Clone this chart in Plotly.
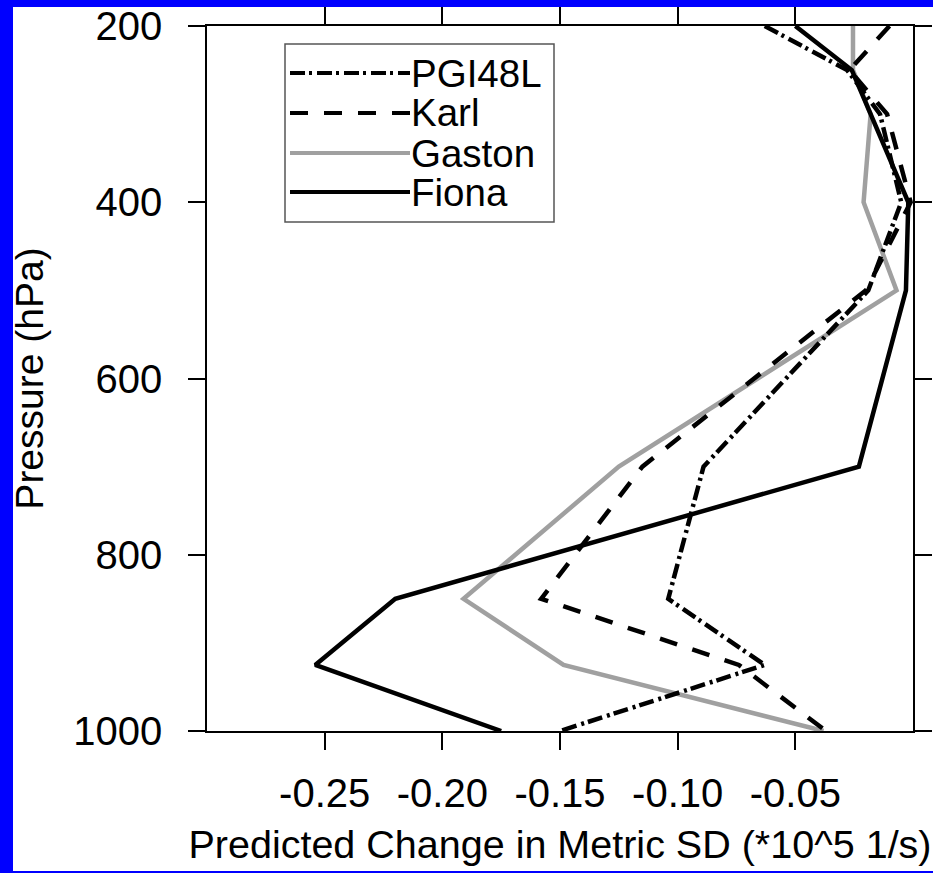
import plotly.graph_objects as go

# Pressure levels (hPa) and predicted change in metric SD (*10^5 1/s)
pressure = [200, 250, 300, 400, 500, 700, 850, 925, 1000]
pgi48l = [-0.063, -0.028, -0.014, -0.005, -0.019, -0.089, -0.104, -0.063, -0.150]
karl = [-0.010, -0.027, -0.011, -0.001, -0.020, -0.115, -0.158, -0.074, -0.037]
gaston = [-0.0255, -0.0255, -0.018, -0.021, -0.007, -0.125, -0.191, -0.1485, -0.038]
fiona = [-0.050, -0.026, -0.018, -0.002, -0.003, -0.023, -0.220, -0.254, -0.175]

x_ticks = [-0.25, -0.20, -0.15, -0.10, -0.05]
x_tick_text = ["-0.25", "-0.20", "-0.15", "-0.10", "-0.05"]
y_ticks = [200, 400, 600, 800, 1000]
y_tick_text = ["200", "400", "600", "800", "1000"]

names = ["PGI48L", "Karl", "Gaston", "Fiona"]
values = {"PGI48L": pgi48l, "Karl": karl, "Gaston": gaston, "Fiona": fiona}

# line styles per storm
styles = {
    "PGI48L": dict(color="black", width=4.5, dash="15px,4px,3px,5px"),
    "Karl": dict(color="black", width=4.5, dash="18px,16px"),
    "Gaston": dict(color="#a0a0a0", width=4.5, dash="solid"),
    "Fiona": dict(color="black", width=4.5, dash="solid"),
}

W, H = 933, 873
ML, MR, MT, MB = 207, 20, 26, 142
PW, PH = W - ML - MR, H - MT - MB


def px_x(p):
    return (p - ML) / PW


def px_y(p):
    return (H - MB - p) / PH


FONT = "Liberation Sans, Arial, Helvetica, sans-serif"

fig = go.Figure()
for name in ["Gaston", "PGI48L", "Karl", "Fiona"]:
    fig.add_trace(go.Scatter(
        x=values[name], y=pressure, mode="lines", name=name,
        line=styles[name], showlegend=False,
    ))

axis_common = dict(
    showline=True, linecolor="black", linewidth=1.5, mirror="allticks",
    ticks="outside", ticklen=17, tickwidth=1.5, tickcolor="black",
    showgrid=False, zeroline=False, automargin=False,
    tickfont=dict(family=FONT, size=40, color="black"),
)

fig.update_xaxes(
    range=[-0.30, 0.0], tickmode="array", tickvals=x_ticks, ticktext=x_tick_text,
    ticklabelstandoff=9,
    title=dict(text="Predicted Change in Metric SD (*10^5 1/s)",
               font=dict(family=FONT, size=39.5, color="black"), standoff=17),
    **axis_common,
)
fig.update_yaxes(
    range=[1000, 200], tickmode="array", tickvals=y_ticks, ticktext=y_tick_text,
    ticklabelstandoff=18,
    title=dict(text="Pressure (hPa)",
               font=dict(family=FONT, size=39, color="black"), standoff=18),
    **axis_common,
)

shapes = [
    # white page panel inside the blue frame
    dict(type="rect", xref="paper", yref="paper", layer="below",
         x0=px_x(13), x1=px_x(940), y0=px_y(871), y1=px_y(7),
         fillcolor="white", line=dict(width=0)),
    # legend box
    dict(type="rect", xref="paper", yref="paper",
         x0=px_x(285), x1=px_x(554), y0=px_y(222), y1=px_y(44),
         fillcolor="white", line=dict(color="#555555", width=1.5)),
]
annotations = []
rows = [73, 113, 153, 192]
for name, row in zip(names, rows):
    st = styles[name]
    shapes.append(dict(type="line", xref="paper", yref="paper",
                       x0=px_x(290), x1=px_x(410), y0=px_y(row), y1=px_y(row),
                       line=dict(color=st["color"], width=4, dash=st["dash"])))
    annotations.append(dict(xref="paper", yref="paper", x=px_x(410), y=px_y(row),
                            xanchor="left", yanchor="middle", showarrow=False,
                            borderpad=0, text=name,
                            font=dict(family=FONT, size=38.5, color="black")))

fig.update_layout(
    width=W, height=H,
    margin=dict(l=ML, r=MR, t=MT, b=MB, pad=0),
    paper_bgcolor="#0000ff", plot_bgcolor="white",
    shapes=shapes, annotations=annotations,
    showlegend=False,
)

fig.write_html("out.html")
